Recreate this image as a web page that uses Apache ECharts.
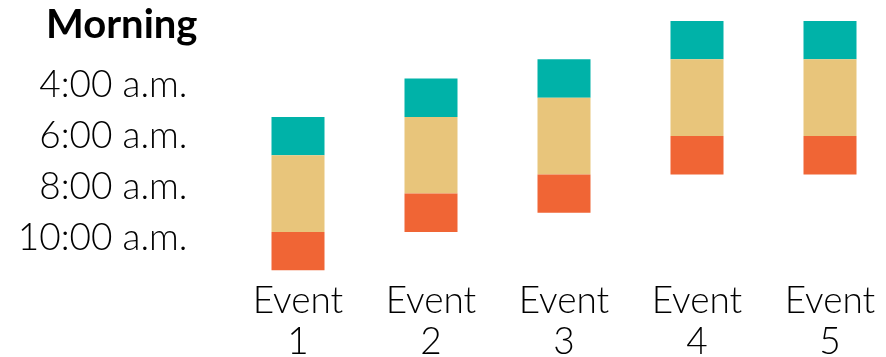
<!DOCTYPE html>
<html>
<head>
<meta charset="utf-8">
<script src="https://cdn.jsdelivr.net/npm/echarts@6/dist/echarts.min.js"></script>
<style>
  html, body { margin: 0; padding: 0; background: #fff; }
  #chart { width: 886px; height: 357px; }
</style>
</head>
<body>
<div id="chart"></div>
<script>
// hours after midnight
const events = ['Event\n1', 'Event\n2', 'Event\n3', 'Event\n4', 'Event\n5'];
const startTimes = [5.25, 3.75, 3, 1.5, 1.5];
const tealHours = [1.5, 1.5, 1.5, 1.5, 1.5];
const beigeHours = [3, 3, 3, 3, 3];
const orangeHours = [1.5, 1.5, 1.5, 1.5, 1.5];
const tickHours = [4, 6, 8, 10];

const colors = ['#00b2a8', '#e8c57b', '#f06535'];
const fontFamily = 'Lato, "Source Sans Pro", "Noto Sans", sans-serif';

const chart = echarts.init(document.getElementById('chart'));

const commonBar = {
  type: 'bar',
  stack: 'time',
  barWidth: 53,
  silent: true,
};

chart.setOption({
  animation: false,
  backgroundColor: '#fff',
  title: {
    text: 'Morning',
    left: 41,
    top: 0,
    textStyle: {
      fontFamily: fontFamily,
      fontWeight: 'bold',
      fontSize: 40,
      color: '#000',
    },
  },
  grid: {
    left: 231.5,
    top: 8.2,
    width: 665,
    height: 262.1,
    containLabel: false,
    outerBoundsMode: 'none',
  },
  xAxis: {
    type: 'category',
    data: events,
    axisLine: { show: false },
    axisTick: { show: false },
    axisLabel: {
      margin: 10,
      fontFamily: fontFamily,
      fontWeight: 300,
      fontSize: 37,
      lineHeight: 41,
      color: '#000',
    },
  },
  yAxis: {
    type: 'value',
    inverse: true,
    min: 1,
    max: 11.25,
    splitLine: { show: false },
    axisLine: { show: false },
    axisTick: { show: false },
    axisLabel: {
      customValues: tickHours,
      margin: 44,
      fontFamily: fontFamily,
      fontWeight: 300,
      fontSize: 37,
      color: '#000',
      formatter: v => v + ':00 a.m.',
    },
  },
  series: [
    { ...commonBar, name: 'base', data: startTimes, itemStyle: { color: 'transparent' } },
    { ...commonBar, name: 'teal', data: tealHours, itemStyle: { color: colors[0] } },
    { ...commonBar, name: 'beige', data: beigeHours, itemStyle: { color: colors[1] } },
    { ...commonBar, name: 'orange', data: orangeHours, itemStyle: { color: colors[2] } },
  ],
});
</script>
</body>
</html>
